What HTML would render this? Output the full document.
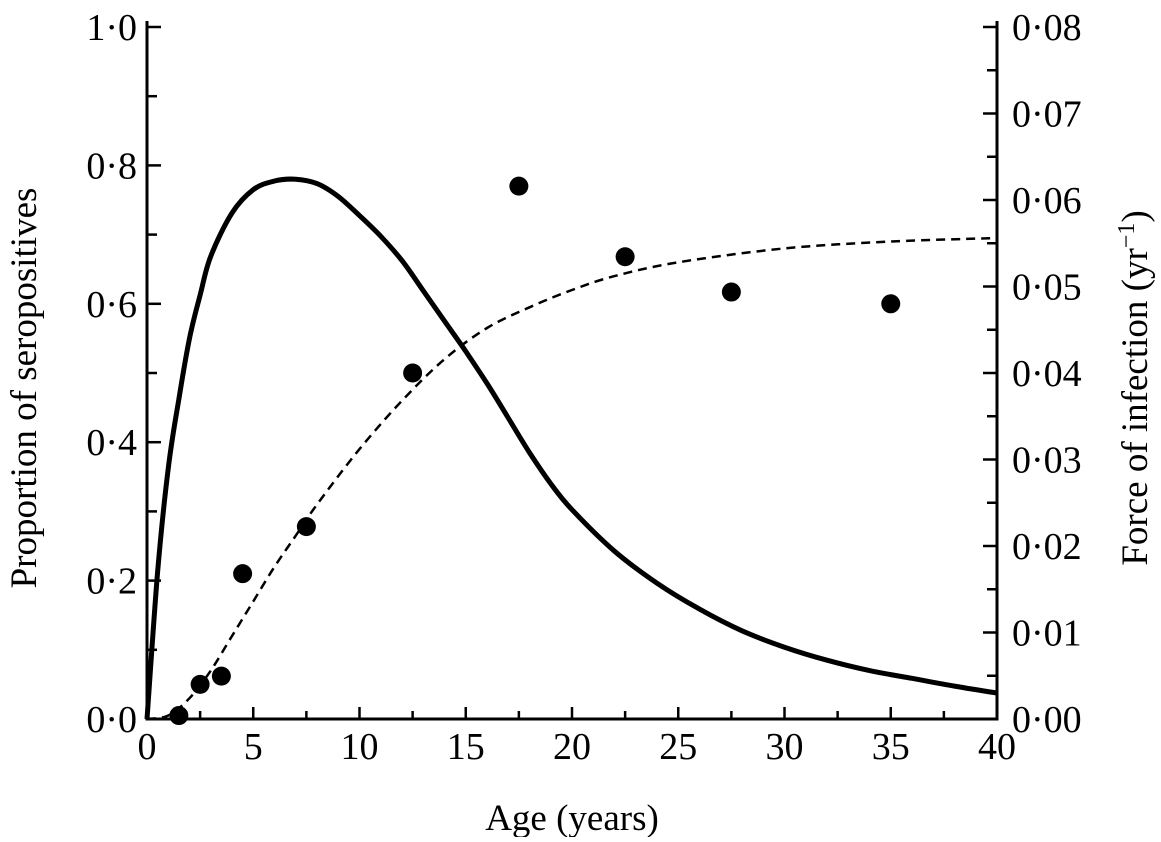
<!DOCTYPE html>
<html><head><meta charset="utf-8"><style>
body{margin:0;background:#fff}
svg text{font-family:"Liberation Serif",serif;fill:#000}
</style></head><body>
<svg id="chart" width="1161" height="837" xmlns="http://www.w3.org/2000/svg"></svg>
<script>
const ages=[1.5,2.5,3.5,4.5,7.5,12.5,17.5,22.5,27.5,35];
const observed=[0.005,0.05,0.062,0.21,0.278,0.5,0.77,0.668,0.617,0.6];
const fitX=[0,1,2,3,4,5,6,7,8,10,12,14,16,18,20,22,25,30,35,40];
const fitY=[0,0.005,0.03,0.07,0.12,0.17,0.22,0.265,0.31,0.39,0.46,0.52,0.565,0.595,0.62,0.64,0.66,0.68,0.69,0.695];
const foiX=[0,0.5,1,1.5,2,2.5,3,4,5,6,7,8,9,10,11,12,13,14,15,16,17,18,19,20,22,24,26,28,30,32,34,36,38,40];
const foiY=[0,0.017,0.029,0.037,0.044,0.049,0.0535,0.0585,0.0612,0.0622,0.0624,0.0619,0.0604,0.0582,0.0558,0.053,0.0495,0.046,0.0425,0.0388,0.0348,0.0308,0.0272,0.0242,0.0194,0.0157,0.0127,0.0102,0.0083,0.0068,0.0056,0.0047,0.0038,0.003];
const xTicks=[0,5,10,15,20,25,30,35,40];
const yLeftTicks=["0·0","0·2","0·4","0·6","0·8","1·0"];
const yRightTicks=["0·00","0·01","0·02","0·03","0·04","0·05","0·06","0·07","0·08"];
const NS="http://www.w3.org/2000/svg";
const svg=document.getElementById('chart');
const X0=147,X1=997,Y0=719,Y1=27;
const sx=v=>X0+(v/40)*(X1-X0);
const syL=v=>Y0-v*(Y0-Y1);
const syR=v=>Y0-(v/0.08)*(Y0-Y1);
function mk(t,a,p){const e=document.createElementNS(NS,t);for(const k in a)e.setAttribute(k,a[k]);(p||svg).appendChild(e);return e;}
function smooth(P){let d=`M${P[0][0].toFixed(1)} ${P[0][1].toFixed(1)}`;
 for(let i=0;i<P.length-1;i++){const p0=P[i-1]||P[i],p1=P[i],p2=P[i+1],p3=P[i+2]||p2;
  const c1=[p1[0]+(p2[0]-p0[0])/6,p1[1]+(p2[1]-p0[1])/6],c2=[p2[0]-(p3[0]-p1[0])/6,p2[1]-(p3[1]-p1[1])/6];
  d+=`C${c1[0].toFixed(1)} ${c1[1].toFixed(1)} ${c2[0].toFixed(1)} ${c2[1].toFixed(1)} ${p2[0].toFixed(1)} ${p2[1].toFixed(1)}`;}
 return d;}
let ax=mk('path',{d:`M${X0} ${Y1-6}V${Y0}H${X1}V${Y1-6}`,fill:'none',stroke:'#000','stroke-width':3});


for(let i=0;i<=16;i++){const v=i*2.5;const maj=i%2===0;
 let t=mk('line',{x1:sx(v),x2:sx(v),y1:Y0,y2:Y0-(maj?12:8),stroke:'#000','stroke-width':2.5});
 
 }
xTicks.forEach(v=>{let t=mk('text',{x:sx(v),y:Y0+40,'font-size':38,'text-anchor':'middle'});t.textContent=v;
 
 });
for(let i=0;i<=10;i++){const v=i/10;
 let t=mk('line',{x1:X0,x2:X0+(i%2===0?14:10),y1:syL(v),y2:syL(v),stroke:'#000','stroke-width':2.5});
 
 }
yLeftTicks.forEach((s,i)=>{let t=mk('text',{x:X0-10,y:syL(i*0.2)+13,'font-size':38,'text-anchor':'end'});t.textContent=s;
 
 });
for(let i=0;i<=16;i++){const v=i*0.005;
 let t=mk('line',{x1:X1,x2:X1-(i%2===0?14:10),y1:syR(v),y2:syR(v),stroke:'#000','stroke-width':2.5});
 
 }
yRightTicks.forEach((s,i)=>{let t=mk('text',{x:X1+15,y:syR(i*0.01)+13,'font-size':38});t.textContent=s;
 
 });
let xt=mk('text',{x:(X0+X1)/2,y:830,'font-size':37,'text-anchor':'middle'});xt.textContent='Age (years)';


let yl=mk('text',{x:0,y:0,'font-size':37,'text-anchor':'middle',transform:`translate(36,${(Y0+Y1)/2+15}) rotate(-90)`});yl.textContent='Proportion of seropositives';


let yr=mk('text',{x:0,y:0,'font-size':37,'text-anchor':'middle',transform:`translate(1147,${(Y0+Y1)/2+15}) rotate(-90)`});
yr.innerHTML='Force of infection (yr<tspan dy="-13" font-size="24">−1</tspan><tspan dy="13">)</tspan>';


let fit=mk('path',{d:smooth(fitX.map((v,i)=>[sx(v),syL(fitY[i])])),fill:'none',stroke:'#000','stroke-width':2.5,'stroke-dasharray':'9 6'});


let foi=mk('path',{d:smooth(foiX.map((v,i)=>[sx(v),syR(foiY[i])])),fill:'none',stroke:'#000','stroke-width':5,'stroke-linejoin':'round'});


ages.forEach((a,i)=>{let c=mk('circle',{cx:sx(a),cy:syL(observed[i]),r:9.5,fill:'#000'});
 
 });
</script>
</body></html>
